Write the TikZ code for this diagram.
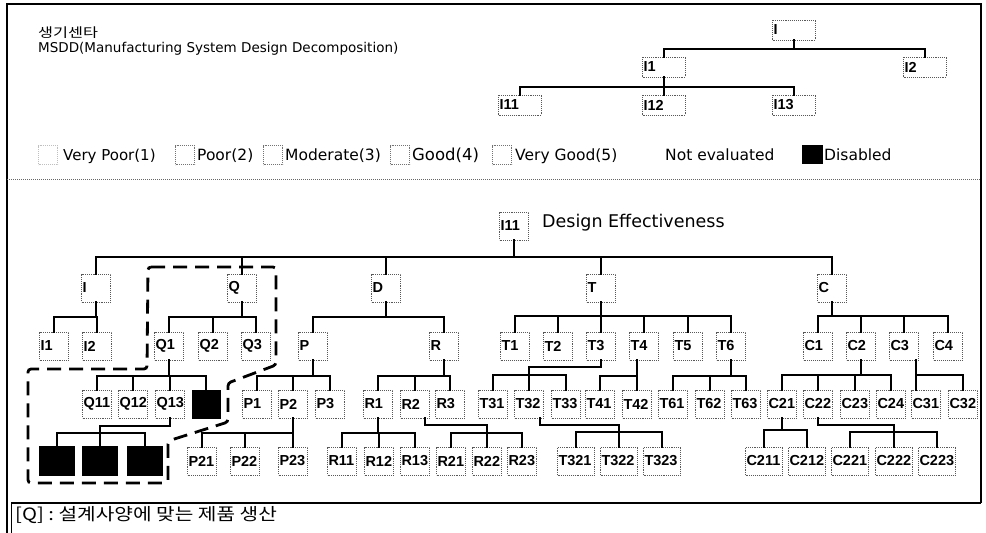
\documentclass[tikz,border=0pt]{standalone}
\usepackage{fontspec}
\setmainfont{DejaVu Sans}
\newfontfamily\labfont{Liberation Sans}
\newfontfamily\krfont{Noto Sans CJK KR}
\usetikzlibrary{calc}
\tikzset{
  cn/.style={line width=2pt, line cap=rect},
  bx/.style={draw=black!65, densely dotted, line width=0.9pt, inner xsep=1pt, inner ysep=0pt,
    minimum height=28pt, text width=#1, align=left, font=\labfont\bfseries\fontsize{14.5}{16}\selectfont},
  b3/.style={bx=27pt},
  b4/.style={bx=35pt},
  bt/.style={bx=41pt, minimum height=20pt},
  blk/.style={fill=black, draw=black, minimum width=#1, minimum height=29pt, inner sep=0pt},
  lg/.style={draw=black!55, densely dotted, line width=0.9pt, minimum size=19pt, inner sep=0pt},
  txt/.style={inner sep=0pt, anchor=base west},
  legtxt/.style={txt, font=\fontsize{15.5}{17}\selectfont},
}
\newcommand\tbar[5]{%
  \draw[cn] (#1) -- (#1 |- 0,#2);
  \draw[cn] (#3.north |- 0,#2) -- (#4.north |- 0,#2);
  \foreach \c in {#5}{\draw[cn] (\c.north) -- (\c.north |- 0,#2);}
}
\begin{document}
\begin{tikzpicture}[x=1pt,y=-1pt]
\useasboundingbox (0,0) rectangle (986,533);
% frame
\draw[line width=1.2pt] (7,533) -- (7,4) -- (981,4) -- (981,503);
\draw[line width=2.2pt] (11,503) -- (981,503);
\draw[line width=1pt] (11,503) -- (11,533);
\draw[black!60, densely dotted, line width=1pt] (7,179) -- (981,179);
% titles
\node[txt, font=\krfont\fontsize{13}{15}\selectfont] (kt) at (38,37) {\scalebox{1.25}[1]{생기센타}};
\node[txt, font=\fontsize{13.5}{15}\selectfont] (mt) at (38,52) {MSDD(Manufacturing System Design Decomposition)};
% legend
\node[lg, draw=black!25] (l1) at (48,155) {};
\node[legtxt, font=\fontsize{15}{17}\selectfont] (lt1) at (63,160) {Very Poor(1)};
\node[lg] (l2) at (185,155) {};
\node[legtxt] (lt2) at (197,160) {Poor(2)};
\node[lg] (l3) at (273,155) {};
\node[legtxt] (lt3) at (285,160) {Moderate(3)};
\node[lg] (l4) at (400,155) {};
\node[legtxt, font=\fontsize{16.5}{18}\selectfont] (lt4) at (412,160) {Good(4)};
\node[lg] (l5) at (502,155) {};
\node[legtxt] (lt5) at (515,160) {Very Good(5)};
\node[legtxt] (lt6) at (665,160) {Not evaluated};
\node[blk=20pt, minimum height=18pt] (l7) at (812,154) {};
\node[legtxt] (lt7) at (824,160) {Disabled};
% small tree
\node[bt] (tI) at (794,30) {I};
\node[bt] (tI1) at (664,67) {I1};
\node[bt] (tI2) at (925,67) {I2};
\node[bt] (tI11) at (520,105) {I11};
\node[bt] (tI12) at (664,105) {I12};
\node[bt] (tI13) at (794,105) {I13};
\tbar{tI.south}{49}{tI1}{tI2}{tI1,tI2}
\tbar{tI1.south}{87}{tI11}{tI13}{tI11,tI12,tI13}
% main tree
\node[b3] (I11) at (514,226) {I11};
\node[txt, font=\fontsize{17.5}{20}\selectfont] (de) at (542,227) {Design Effectiveness};
\foreach \n/\x in {I/96,Q/242,D/386,T/601,C/832}
  \node[b3] (\n) at (\x,288) {\n};
\foreach \n/\x in {I1/54,I2/97,Q1/169,Q2/213,Q3/256,P/313,R/444,T1/515,T2/558,T3/601,T4/644,T5/688,T6/731,C1/818,C2/861,C3/904,C4/948}
  \node[b3] (\n) at (\x,346) {\n};
\foreach \n/\x in {Q11/97,Q12/133,Q13/170,P1/257,P2/293,P3/330,R1/378,R2/415,R3/450,T31/493,T32/529,T33/566,T41/600,T42/637,T61/673,T62/710,T63/746,C21/782,C22/818,C23/855,C24/891,C31/926,C32/963}
  \node[b3] (\n) at (\x,404) {\n};
\node[blk=28pt, minimum height=28pt] (QX) at (206,404) {};
\foreach \n/\x in {P21/202,P22/245,P23/293,R11/342,R12/379,R13/415,R21/451,R22/487,R23/522}
  \node[b3] (\n) at (\x,461) {\n};
\foreach \n/\x in {T321/576,T322/619,T323/662,C211/764,C212/807,C221/850,C222/894,C223/937}
  \node[b4] (\n) at (\x,461) {\n};
\foreach \n/\x in {B1/57,B2/100,B3/145}
  \node[blk=35pt] (\n) at (\x,461) {};
% connectors
\tbar{I11.south}{257}{I}{C}{I,Q,D,T,C}
\tbar{I.south}{317}{I1}{I2}{I1,I2}
\tbar{Q.south}{317}{Q1}{Q3}{Q1,Q2,Q3}
\tbar{D.south}{317}{P}{R}{P,R}
\tbar{T.south}{316}{T1}{T6}{T1,T2,T3,T4,T5,T6}
\tbar{C.south}{316}{C1}{C4}{C1,C2,C3,C4}
\tbar{Q1.south}{376}{Q11}{QX}{Q11,Q12,Q13,QX}
\tbar{P.south}{376}{P1}{P3}{P1,P2,P3}
\tbar{R.south}{376}{R1}{R3}{R1,R2,R3}
\coordinate (t3j) at (T32.north |- 0,367);
\draw[cn] (T3.south) -- (T3.south |- t3j) -- (t3j);
\tbar{t3j}{375}{T31}{T33}{T31,T32,T33}
\coordinate (t4o) at ([xshift=-7pt]T4.south);
\tbar{t4o}{376}{T41}{T42}{T41,T42}
\tbar{T6.south}{376}{T61}{T63}{T61,T62,T63}
\tbar{C2.south}{375}{C21}{C24}{C21,C22,C23,C24}
\coordinate (c3o) at ([xshift=12pt]C3.south);
\draw[cn] (c3o) -- (c3o |- C31.north);
\draw[cn] (c3o |- 0,375) -- (C32.north |- 0,375) -- (C32.north);
\coordinate (q13j) at (B2.north |- 0,426);
\draw[cn] (Q13.south) -- (Q13.south |- q13j) -- (q13j);
\tbar{q13j}{433}{B1}{B3}{B1,B2,B3}
\tbar{P2.south}{433}{P21}{P23}{P21,P22,P23}
\tbar{R1.south}{433}{R11}{R13}{R11,R12,R13}
\coordinate (r2o) at ([xshift=10pt]R2.south);
\coordinate (r2j) at (R22.north |- 0,425);
\draw[cn] (r2o) -- (r2o |- r2j) -- (r2j);
\tbar{r2j}{433}{R21}{R23}{R21,R22,R23}
\coordinate (t32o) at ([xshift=11pt]T32.south);
\coordinate (t32j) at (T322.north |- 0,425);
\draw[cn] (t32o) -- (t32o |- t32j) -- (t32j);
\tbar{t32j}{432}{T321}{T323}{T321,T322,T323}
\tbar{C21.south}{430}{C211}{C212}{C211,C212}
\coordinate (c22j) at (C222.north |- 0,425);
\draw[cn] (C22.south) -- (C22.south |- c22j) -- (c22j);
\tbar{c22j}{432}{C221}{C223}{C221,C222,C223}
% dashed region
\draw[line width=2.8pt, dash pattern=on 14pt off 8pt, rounded corners=3pt]
  (148,267) -- (276,267) -- (276,365) -- (228,383) -- (228,422) -- (168,441)
  -- (168,483) -- (28,483) -- (28,369) -- (147,369) -- cycle;
% bottom note
\node[txt, font=\krfont\fontsize{17}{19}\selectfont] (bq) at (15,520) {\scalebox{1.19}[1]{[Q] : 설계사양에 맞는 제품 생산}};
\end{tikzpicture}
\end{document}
